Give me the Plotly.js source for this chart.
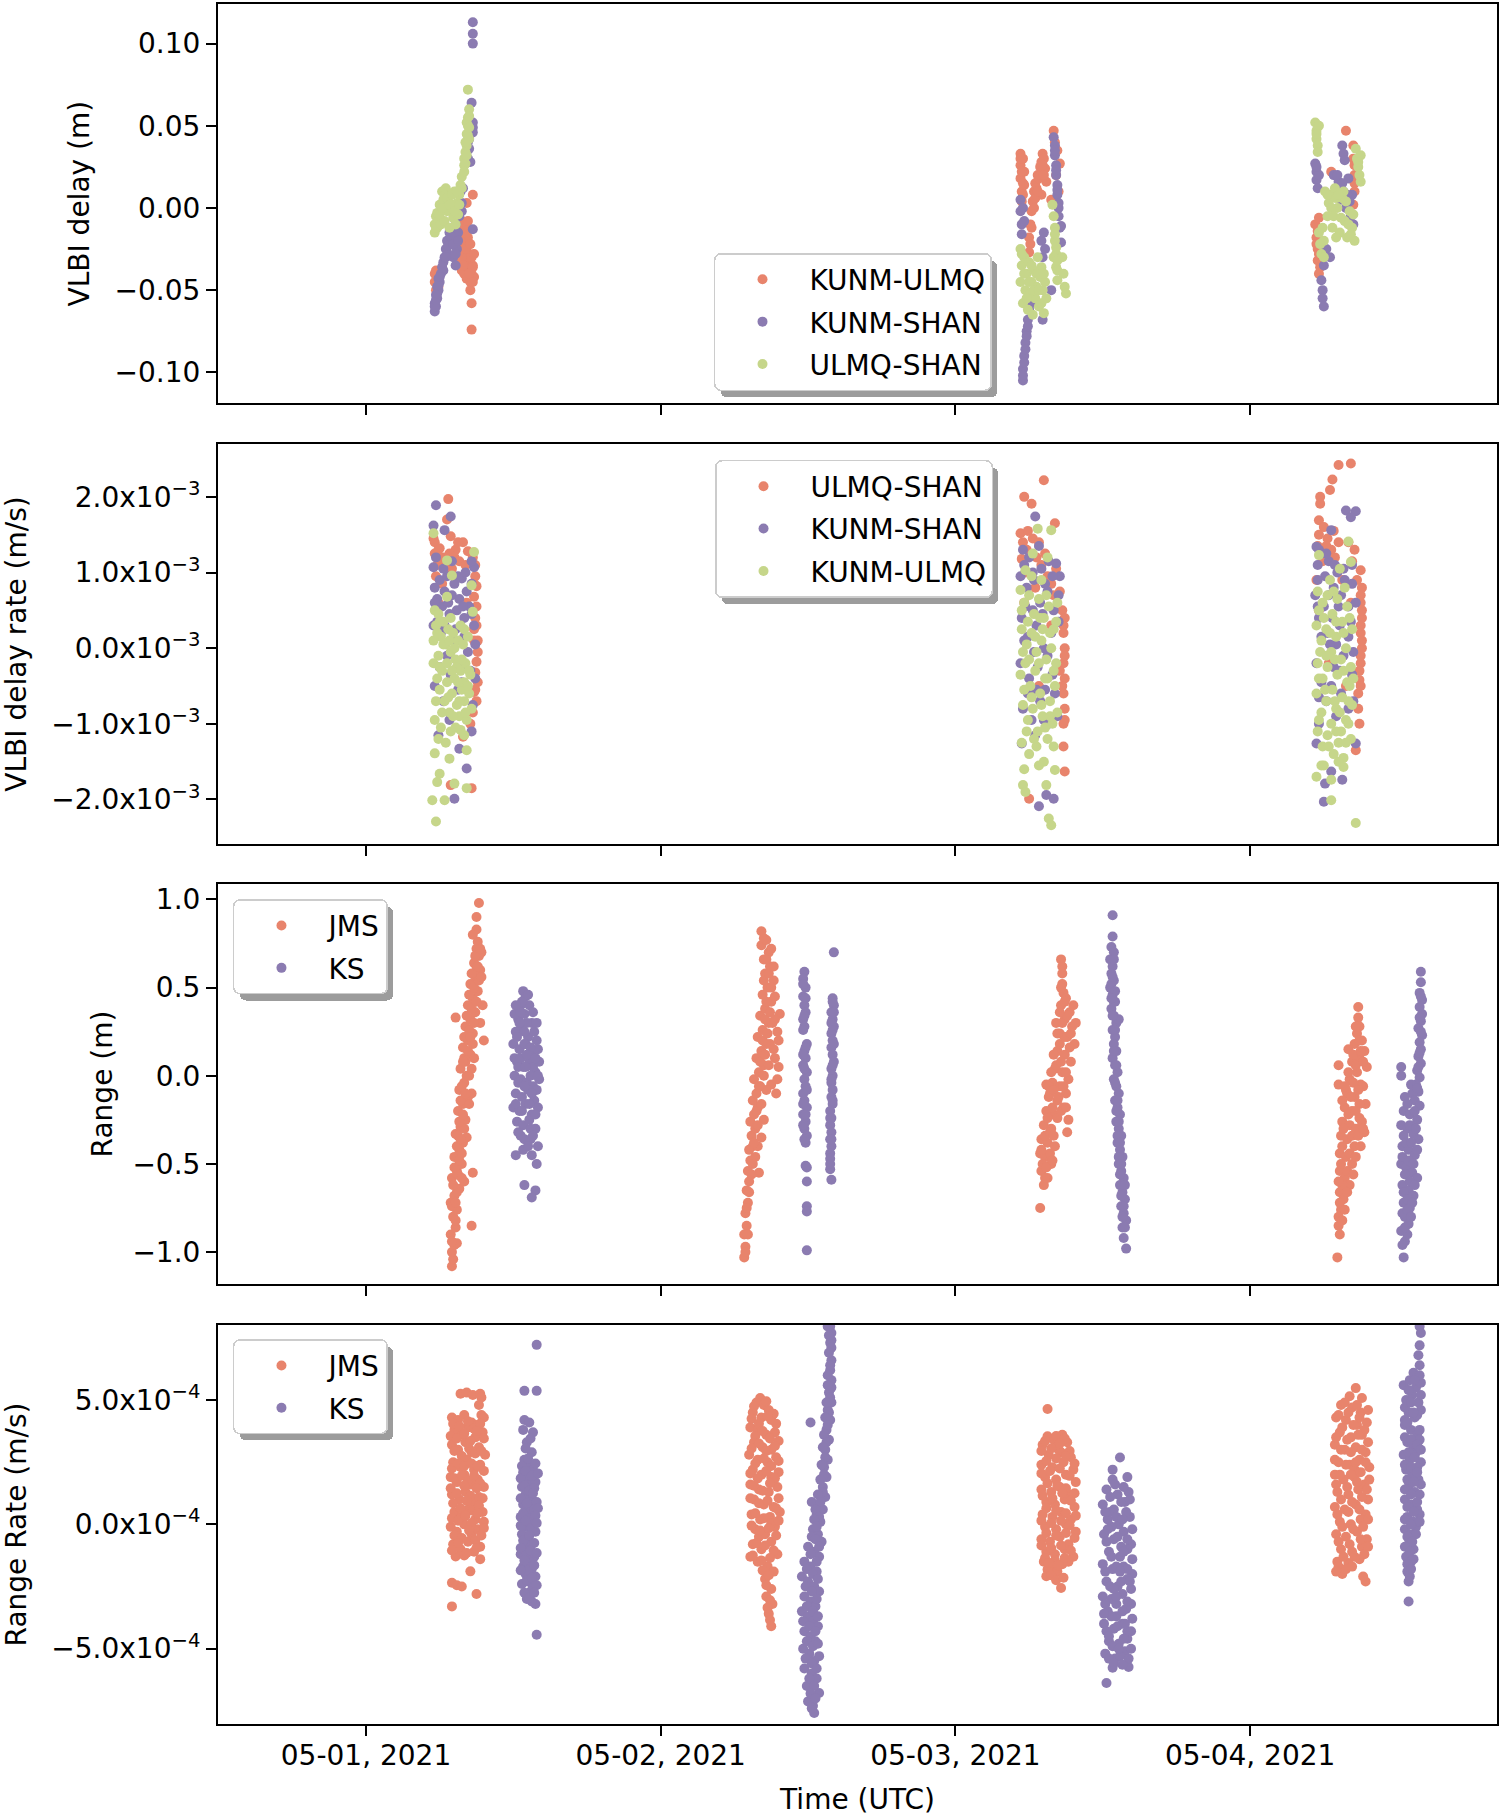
<!DOCTYPE html>
<html lang="en">
<head>
    <meta charset="UTF-8">
    <title>VLBI delay and range residuals</title>
    <script src="https://cdn.plot.ly/plotly-3.0.1.min.js"></script>
    <style>
        body { margin: 0; background: #ffffff; }
        #plot { width: 1500px; height: 1816px; }
    </style>
</head>
<body>
    <div id="plot"></div>

    <script>
        // every point is [hours since 2021-05-01 00:00 UTC, value]

        // VLBI delay (m)
        const delayKunmUlmq = [
            [5.6,-0.040],[5.6,-0.045],[5.7,-0.050],[5.8,-0.043],[5.9,-0.048],[5.7,-0.038],
            [7.5,-0.005],[7.6,-0.010],[7.6,-0.018],[7.7,-0.025],[7.7,-0.032],[7.8,-0.008],[7.8,-0.038],
            [7.9,-0.015],[7.9,-0.028],[8.0,-0.040],[8.0,-0.020],[8.1,-0.033],[8.1,-0.012],[8.2,-0.043],
            [8.2,-0.025],[8.3,-0.036],[8.3,-0.018],[8.4,-0.030],[8.5,-0.045],[8.6,-0.040],[8.7,-0.035],
            [8.8,-0.042],[8.5,-0.050],[8.6,-0.058],[8.6,-0.074],[8.7,0.008],[8.2,0.003],[8.7,-0.036],
            [7.6,-0.014],[7.7,-0.020],[7.8,-0.030],[7.9,-0.035],[8.0,-0.010],[8.1,-0.025],[8.2,-0.015],
            [8.3,-0.008],[8.4,-0.040],[8.5,-0.022],[8.6,-0.030],[8.7,-0.045],[8.8,-0.028],[7.5,-0.012],
            [53.3,0.033],[53.3,0.026],[53.3,0.018],[53.4,0.010],[53.4,0.004],[53.5,0.030],[53.6,0.022],[53.6,0.014],
            [53.3,0.030],[53.4,0.022],[53.5,0.015],[53.5,0.008],
            [54.0,-0.027],[54.0,-0.018],[54.1,-0.010],[54.2,-0.002],[54.3,0.004],[54.4,0.010],[54.5,0.015],
            [54.6,0.012],[54.7,0.020],[54.8,0.018],[54.9,0.025],[55.0,0.028],[55.1,0.033],[55.2,0.030],
            [55.3,0.024],[55.4,0.016],[55.0,0.008],[54.1,-0.022],[54.2,-0.012],[54.4,0.000],[54.5,0.006],
            [54.7,0.010],[54.9,0.020],[55.1,0.026],[55.2,0.020],
            [56.0,0.047],[56.1,0.040],[56.3,0.035],[56.5,0.027],[56.2,0.020],[56.4,0.010],[55.8,0.005],[56.3,0.003],
            [79.8,0.047],[78.6,0.022],[80.4,0.038],[80.4,0.030],[80.5,0.020],[80.5,0.010],[80.4,0.002],
            [80.5,0.026],[80.5,0.015],
            [77.3,-0.010],[77.4,-0.018],[77.5,-0.025],[77.5,-0.032],[77.6,-0.040],[77.7,-0.036],[77.6,-0.006],
            [77.4,-0.022],[77.5,-0.014],[77.6,-0.028]
        ];
        const delayKunmShan = [
            [5.6,-0.063],[5.6,-0.058],[5.7,-0.060],[5.7,-0.053],[5.8,-0.055],[5.8,-0.048],[5.9,-0.050],
            [5.9,-0.043],[6.0,-0.045],[6.1,-0.040],[6.2,-0.036],[6.3,-0.038],
            [5.6,-0.060],[5.7,-0.056],[5.8,-0.052],[5.9,-0.047],[6.0,-0.042],[6.3,-0.033],
            [6.4,-0.030],[6.5,-0.025],[6.6,-0.020],[6.7,-0.028],[6.8,-0.015],[6.9,-0.022],[7.0,-0.012],
            [7.1,-0.030],[7.2,-0.018],[7.3,-0.010],[7.4,-0.025],[7.5,-0.015],[7.3,-0.035],
            [6.5,-0.030],[6.7,-0.023],[6.9,-0.017],[7.1,-0.022],[7.3,-0.028],[7.5,-0.020],[7.6,-0.005],
            [7.7,0.010],[7.8,0.003],[7.8,-0.002],[7.9,0.012],[8.7,-0.013],
            [8.3,0.030],[8.4,0.036],[8.4,0.042],[8.5,0.028],[8.6,0.064],[8.7,0.049],[8.7,0.052],[8.7,0.046],
            [8.2,0.034],[8.3,0.040],[8.5,0.045],
            [8.7,0.100],[8.7,0.106],[8.7,0.113],
            [53.3,0.005],[53.3,-0.002],[53.4,-0.010],[53.4,-0.016],[53.5,0.000],[53.6,-0.008],
            [53.5,-0.105],[53.5,-0.098],[53.6,-0.090],[53.7,-0.082],[53.8,-0.075],[53.9,-0.068],[54.0,-0.062],[54.2,-0.058],
            [53.5,-0.102],[53.6,-0.094],[53.7,-0.086],[53.8,-0.078],[53.9,-0.072],
            [55.0,-0.020],[55.1,-0.030],[55.2,-0.015],[55.3,-0.025],[55.1,-0.068],[55.8,-0.050],
            [56.0,0.043],[56.1,0.038],[56.1,0.032],[56.2,0.026],[56.2,0.020],[56.3,0.014],[56.3,0.008],
            [56.4,0.003],[56.4,-0.005],[56.5,-0.012],[56.6,-0.011],[56.6,-0.021],
            [56.1,0.035],[56.2,0.023],[56.3,0.011],[56.4,0.000],
            [77.3,0.027],[77.4,0.022],[77.4,0.017],[77.5,0.012],[77.6,0.020],[77.4,0.025],
            [79.5,0.038],[79.6,0.033],[79.7,0.029],
            [78.8,0.020],[79.0,0.012],[79.2,0.016],[79.4,0.005],[79.6,0.010],[79.8,0.000],[80.0,0.018],
            [80.2,-0.005],[80.4,-0.010],[80.3,0.008],[79.1,0.020],[79.5,0.015],[79.9,0.008],[80.1,0.004],
            [77.8,-0.044],[77.9,-0.050],[77.9,-0.055],[78.0,-0.060],[78.0,-0.035],[78.2,-0.025],[78.5,-0.030]
        ];
        const delayUlmqShan = [
            [5.6,-0.010],[5.6,-0.015],[5.7,-0.005],[5.8,-0.012],[5.9,-0.008],[5.7,-0.012],[5.8,-0.003],
            [6.0,0.002],[6.1,-0.010],[6.2,0.010],[6.3,0.005],[6.4,-0.008],[6.5,0.012],[6.6,-0.002],
            [6.7,0.004],[6.8,-0.012],[6.9,0.008],[7.0,0.000],[7.1,-0.006],[7.2,0.010],[7.3,-0.010],
            [7.4,0.003],[7.5,-0.004],[7.6,0.008],[7.7,0.014],[7.8,0.019],[7.8,0.012],
            [6.0,-0.004],[6.2,0.000],[6.4,0.008],[6.6,0.006],[6.8,0.002],[7.0,0.008],[7.2,-0.002],
            [7.4,0.010],[7.6,0.002],
            [8.0,0.026],[8.0,0.030],[8.1,0.034],[8.2,0.038],[8.2,0.045],[8.3,0.050],[8.3,0.055],
            [8.4,0.060],[8.4,0.042],[8.1,0.027],[8.3,0.072],[8.0,0.022],[8.1,0.040],[8.2,0.032],
            [8.2,0.052],[8.3,0.044],[8.4,0.056],[8.4,0.049],
            [53.3,-0.025],[53.3,-0.045],[53.4,-0.035],[53.5,-0.058],[53.6,-0.030],[53.7,-0.050],
            [53.8,-0.040],[53.9,-0.062],[54.0,-0.033],[54.1,-0.052],[54.2,-0.045],[54.3,-0.065],
            [54.4,-0.038],[54.5,-0.055],[54.6,-0.048],[54.7,-0.030],[54.8,-0.060],[54.9,-0.042],
            [55.0,-0.036],[55.1,-0.050],[55.2,-0.064],[55.3,-0.045],[55.4,-0.055],
            [53.4,-0.028],[53.6,-0.040],[53.8,-0.055],[54.0,-0.045],[54.2,-0.035],[54.4,-0.050],
            [54.6,-0.040],[54.8,-0.050],[55.0,-0.058],[55.2,-0.040],
            [55.9,0.002],[56.0,-0.005],[56.1,-0.012],[56.1,-0.020],[56.2,-0.028],[56.2,-0.036],
            [56.3,-0.044],[56.0,-0.030],[56.1,-0.016],[56.2,-0.024],[56.3,-0.032],[56.3,-0.038],
            [56.7,-0.030],[56.8,-0.040],[56.9,-0.048],[57.0,-0.052],
            [77.3,0.052],[77.4,0.047],[77.4,0.042],[77.5,0.038],[77.5,0.034],[77.6,0.050],[77.4,0.045],
            [80.6,0.036],[80.7,0.030],[80.8,0.025],[80.9,0.020],[81.0,0.016],[81.0,0.032],[80.8,0.028],
            [78.1,0.010],[78.3,-0.005],[78.5,0.008],[78.7,-0.012],[78.9,0.012],[79.1,0.000],
            [79.3,-0.015],[79.5,0.006],[79.7,-0.008],[79.9,-0.018],[80.1,-0.002],[80.3,-0.012],
            [80.5,-0.020],[78.4,0.003],[79.0,-0.018],[79.6,0.010],[80.2,-0.016],
            [78.3,0.008],[78.6,0.000],[78.8,-0.005],[79.0,0.006],[79.2,0.008],[79.4,-0.006],
            [79.8,0.004],[80.0,-0.010],[80.4,-0.004],[78.0,-0.020],
            [77.6,-0.015],[77.7,-0.022],[77.8,-0.028],[77.9,-0.012],[78.0,-0.030]
        ];

        // VLBI delay rate, in units of 1e-3 m/s
        const rateUlmqShan = [
            [6.7,1.97],[6.6,1.70],[6.9,1.48],[7.9,1.40],[8.3,1.28],[8.7,1.20],[5.5,1.45],[5.6,1.25],
            [5.8,1.10],[6.0,1.32],[6.3,1.20],[6.5,1.05],[7.3,1.30],[7.6,1.15],[8.9,1.10],[8.9,0.95],
            [9.0,0.82],[8.8,0.68],[9.0,0.55],[8.9,0.40],[9.1,0.10],[8.8,0.25],[9.0,-0.18],[8.9,-0.32],
            [9.1,-0.45],[8.8,-0.58],[9.0,-0.70],[8.7,-0.85],[7.9,-1.17],[6.9,-1.81],[8.6,-1.85],
            [5.7,0.95],[6.2,0.85],[7.0,1.05],[8.2,0.60],[5.9,0.60],[8.5,-1.00],
            [5.6,1.40],[6.1,1.10],[6.8,1.25],[7.5,1.40],[8.1,1.10],[8.8,0.85],[9.0,0.30],[9.1,-0.05],
            [8.9,-0.55],[8.8,0.10],[5.9,1.30],[7.2,1.20],
            [55.2,2.22],[53.6,2.00],[54.2,1.91],[56.1,1.65],[53.3,1.52],[53.5,1.40],[53.8,1.30],
            [54.3,1.45],[54.6,1.20],[55.0,1.10],[53.4,1.18],[55.5,0.95],[56.0,0.70],[56.7,0.50],
            [56.9,0.40],[56.8,0.20],[56.9,0.00],[56.8,-0.20],[56.9,-0.40],[56.8,-0.60],[56.9,-0.80],
            [56.8,-1.00],[56.9,-1.63],[54.0,-1.99],[54.5,0.80],[53.6,0.60],[55.8,0.30],[56.5,-0.30],
            [54.8,-0.50],[56.2,1.05],
            [53.9,1.55],[54.8,1.40],[55.3,1.25],[55.8,0.85],[56.5,0.75],[56.8,0.30],[56.9,-0.10],
            [56.7,-0.50],[56.9,-0.95],[56.8,-1.30],[53.7,1.00],
            [79.2,2.42],[80.2,2.44],[78.7,2.23],[78.5,2.09],[77.7,2.00],[77.7,1.91],[77.6,1.69],
            [78.0,1.60],[78.3,1.45],[78.6,1.30],[77.5,1.35],[77.9,1.15],[78.9,1.20],[80.0,1.40],
            [80.5,1.30],[81.0,1.03],[81.1,0.80],[81.0,0.60],[81.1,0.40],[81.0,0.20],[81.1,0.00],
            [81.0,-0.20],[80.9,-0.42],[80.8,-0.60],[80.6,-1.35],[79.5,0.90],[80.2,0.60],[77.6,0.50],
            [78.4,-0.20],[79.8,-0.50],[80.9,-1.00],[77.4,0.90],
            [77.6,1.50],[78.2,1.35],[78.8,1.55],[80.3,1.15],[80.7,0.90],[81.0,0.70],[81.1,0.50],
            [81.0,0.30],[81.1,0.10],[81.0,-0.10],[80.9,-0.30],[81.0,-0.50],[80.8,-0.80],[79.2,1.40]
        ];
        const rateKunmShan = [
            [5.7,1.89],[6.9,1.74],[6.4,1.56],[5.5,1.62],[5.5,1.07],[8.8,1.07],[5.6,0.80],[5.8,0.65],
            [6.0,0.90],[6.2,0.55],[6.4,0.75],[6.6,0.95],[6.8,0.45],[7.0,0.70],[7.2,0.85],[7.4,0.50],
            [7.6,0.65],[7.8,0.92],[8.0,0.40],[8.2,0.75],[8.4,0.55],[8.6,0.85],[8.8,0.30],[5.5,0.30],
            [6.1,0.20],[6.6,-0.10],[7.1,0.10],[7.7,-0.25],[8.3,-0.05],[8.9,-0.40],[5.6,-0.50],
            [6.3,-0.70],[7.5,-0.55],[8.7,-0.75],[5.9,-1.15],[7.6,-1.33],[8.2,-1.59],[7.2,-1.99],
            [8.6,-1.10],[6.8,-0.95],[8.9,0.05],
            [5.7,1.20],[6.3,1.05],[7.0,1.15],[7.5,0.95],[8.1,1.00],[8.6,1.15],[5.8,0.35],[6.4,0.30],
            [7.3,0.25],[8.0,0.15],[8.6,0.45],[6.0,-0.25],[6.9,-0.35],[7.8,-0.45],[8.5,-0.30],
            [6.7,0.60],[7.9,0.55],[5.6,0.60],
            [54.5,1.74],[53.5,1.30],[54.0,1.20],[55.0,1.05],[55.6,1.15],[56.2,1.12],[53.3,0.95],
            [53.8,0.80],[54.4,0.90],[54.9,0.60],[55.5,0.75],[56.0,0.50],[56.4,0.35],[53.4,0.40],
            [53.9,0.15],[54.6,0.30],[55.2,0.00],[55.8,0.20],[53.3,-0.20],[54.0,-0.40],[54.7,-0.25],
            [55.3,-0.55],[55.9,-0.35],[53.5,-0.80],[54.2,-0.95],[54.9,-0.70],[55.6,-1.00],[53.4,-1.26],
            [54.5,-1.15],[55.4,-1.94],[54.8,-2.09],[56.0,-1.99],[56.3,-0.90],[56.5,0.95],
            [53.6,1.10],[54.3,1.00],[55.3,0.85],[55.9,0.95],[53.7,0.55],[54.3,0.50],[55.1,0.45],
            [53.6,0.10],[54.4,-0.05],[55.5,-0.10],[53.9,-0.60],[54.6,-0.55],[55.2,-0.95],[56.1,-0.60],
            [54.8,1.35],[56.4,0.70],
            [79.8,1.82],[80.6,1.81],[80.2,1.73],[78.6,1.56],[77.4,1.34],[77.5,1.10],[77.8,1.25],
            [78.1,0.95],[78.4,1.15],[78.8,0.80],[79.1,1.00],[79.4,0.70],[79.7,0.90],[80.0,0.55],
            [80.3,0.85],[80.6,0.60],[77.3,0.70],[77.6,0.40],[78.0,0.55],[78.3,0.20],[78.7,0.40],
            [79.0,0.05],[79.3,0.30],[79.6,-0.10],[80.0,0.15],[80.4,-0.05],[77.4,-0.20],[77.8,-0.45],
            [78.2,-0.70],[78.6,-0.50],[79.0,-0.90],[79.4,-0.60],[80.0,-0.80],[77.4,-1.26],[80.6,-1.26],
            [78.6,-1.63],[79.5,-1.74],[78.1,-1.79],[78.0,-2.03],[77.6,-1.00],
            [77.6,1.30],[78.2,1.25],[78.9,1.10],[79.6,1.05],[80.3,1.10],[77.5,0.90],[78.4,0.70],
            [79.2,0.55],[80.2,0.35],[77.8,0.15],[78.5,0.05],[79.3,-0.30],[80.3,-0.35],[77.6,-0.65],
            [78.8,-0.25],[80.4,-0.70],[77.5,0.55]
        ];
        const rateKunmUlmq = [
            [5.5,1.52],[8.8,1.27],[6.6,1.16],[7.0,0.96],[8.6,0.83],[6.6,0.68],[5.6,0.50],[8.7,0.48],
            [5.7,0.30],[5.9,0.45],[6.1,0.15],[6.3,0.35],[6.5,0.05],[6.7,0.25],[6.9,-0.05],[7.1,0.20],
            [7.3,-0.15],[7.5,0.10],[7.7,-0.30],[7.9,0.05],[8.1,-0.20],[8.3,0.15],[8.5,-0.35],[5.5,-0.20],
            [5.8,-0.40],[6.0,-0.55],[6.2,-0.30],[6.4,-0.70],[6.6,-0.45],[6.8,-0.85],[7.0,-0.60],
            [7.2,-0.40],[7.4,-0.75],[7.6,-0.90],[7.8,-0.55],[8.0,-0.70],[8.2,-0.95],[8.4,-0.60],
            [8.6,-0.80],[5.6,-0.95],[6.1,-1.05],[6.9,-1.10],[7.7,-1.08],[5.6,-1.39],[6.8,-1.46],
            [8.2,-1.35],[6.0,-1.66],[5.8,-1.77],[7.2,-1.79],[8.2,-1.85],[5.4,-2.01],[6.4,-2.01],
            [5.7,-2.29],[5.9,-0.10],[7.4,-0.25],[8.0,-0.45],[6.5,-1.25],
            [5.5,0.10],[5.8,0.20],[6.0,-0.25],[6.3,0.05],[6.6,-0.20],[6.8,0.10],[7.0,-0.30],[7.2,0.00],
            [7.5,-0.45],[7.8,-0.15],[8.0,0.25],[8.3,-0.50],[5.7,-0.70],[6.2,-0.85],[6.7,-0.65],
            [7.1,-0.90],[7.6,-0.70],[8.1,-0.85],[8.4,-0.30],[6.0,0.35],[6.9,0.40],[7.7,0.30],
            [5.9,-1.20],[7.3,-1.05],[8.0,-1.15],
            [54.7,1.58],[55.8,1.56],[53.7,1.03],[54.3,1.25],[55.0,0.90],[53.3,0.77],[53.6,0.60],
            [54.0,0.70],[54.4,0.45],[54.8,0.65],[55.2,0.40],[55.6,0.55],[56.0,0.25],[56.3,0.60],
            [53.4,0.25],[53.8,0.05],[54.2,0.20],[54.6,-0.05],[55.0,0.10],[55.4,-0.15],[55.8,0.00],
            [56.2,-0.20],[53.3,-0.35],[53.7,-0.20],[54.1,-0.50],[54.5,-0.30],[54.9,-0.60],[55.3,-0.40],
            [55.7,-0.70],[56.1,-0.50],[53.5,-0.75],[53.9,-0.95],[54.3,-0.80],[54.7,-1.10],[55.1,-0.90],
            [55.5,-1.20],[55.9,-1.00],[56.3,-0.85],[53.4,-1.25],[54.0,-1.40],[54.6,-1.30],[55.2,-1.50],
            [56.1,-1.61],[53.5,-1.81],[53.7,-1.90],[55.4,-1.81],[55.6,-2.25],[55.8,-2.34],[54.2,0.95],
            [55.5,1.20],
            [53.4,0.50],[53.9,0.35],[54.5,0.15],[55.1,0.25],[55.7,0.20],[56.2,0.35],[53.5,-0.05],
            [54.0,-0.15],[54.8,-0.20],[55.5,-0.40],[56.0,-0.30],[53.6,-0.55],[54.2,-0.65],[55.0,-0.75],
            [55.7,-0.90],[53.8,-1.10],[54.4,-1.20],[55.3,-1.05],[56.0,-1.30],[54.8,-1.55],[53.6,-1.60],
            [54.9,0.40],[55.4,0.70],
            [80.0,1.41],[80.2,1.14],[77.6,1.23],[78.5,0.90],[79.3,1.05],[77.5,0.75],[77.9,0.60],
            [78.3,0.70],[78.7,0.45],[79.1,0.65],[79.5,0.35],[79.9,0.55],[80.3,0.25],[77.4,0.30],
            [77.8,0.10],[78.2,0.25],[78.6,-0.05],[79.0,0.15],[79.4,-0.15],[79.8,0.00],[80.2,-0.25],
            [77.5,-0.20],[77.9,-0.40],[78.3,-0.25],[78.7,-0.55],[79.1,-0.35],[79.5,-0.65],[79.9,-0.45],
            [80.3,-0.75],[77.4,-0.60],[77.8,-0.85],[78.2,-0.70],[78.6,-1.00],[79.0,-0.80],[79.4,-1.10],
            [79.8,-0.95],[80.2,-1.20],[77.5,-1.10],[77.9,-1.30],[78.3,-1.15],[78.8,-1.40],[79.2,-1.25],
            [79.6,-1.45],[77.4,-1.70],[78.6,-1.74],[79.6,-1.57],[78.6,-2.01],[80.6,-2.31],[78.0,-1.55],
            [80.0,-1.00],
            [77.6,0.50],[78.0,0.40],[78.5,0.20],[79.0,0.35],[79.6,0.20],[80.1,0.40],[77.7,-0.05],
            [78.2,-0.10],[78.9,-0.15],[79.6,-0.30],[80.1,-0.50],[77.6,-0.40],[78.1,-0.55],[78.9,-0.70],
            [79.3,-0.85],[80.0,-0.70],[77.6,-0.95],[78.4,-1.30],[79.0,-1.10],[79.8,-1.25],[77.8,-1.55],
            [79.2,-1.50],[78.8,0.75],[79.7,0.80],[80.4,-0.40]
        ];

        // Range (m)
        const rangeJms = [
            [7.0,-1.08],[7.1,-1.04],[7.0,-1.00],[7.2,-0.96],[6.9,-0.90],[7.3,-0.86],[7.1,-0.80],[7.4,-0.76],
            [6.9,-0.72],[7.2,-0.68],[7.6,-0.64],[7.0,-0.58],[7.4,-0.54],[7.8,-0.50],[7.2,-0.46],[7.6,-0.42],
            [7.9,-0.38],[7.3,-0.33],[7.7,-0.29],[8.1,-0.25],[7.5,-0.20],[7.9,-0.16],[8.3,-0.12],[7.6,-0.08],
            [8.0,-0.04],[8.4,0.00],[7.7,0.04],[8.1,0.08],[8.5,0.12],[7.9,0.16],[8.3,0.20],[8.7,0.24],
            [8.1,0.28],[8.5,0.32],[8.9,0.36],[8.3,0.40],[8.7,0.44],[9.1,0.48],[8.5,0.52],[8.9,0.56],
            [9.3,0.60],[8.8,0.64],[9.2,0.68],[9.0,0.72],[9.4,0.70],[9.1,0.76],[9.0,0.83],[9.2,0.98],
            [7.3,0.33],[8.6,-0.85],[8.7,-0.55],[8.0,-0.60],[8.2,-0.35],[8.6,-0.10],[8.8,0.10],[9.5,0.40],
            [9.6,0.20],[9.3,0.30],[7.4,-0.95],
            [7.0,-0.94],[7.3,-0.82],[7.0,-0.74],[7.4,-0.66],[7.1,-0.62],[7.5,-0.56],[7.8,-0.58],[7.2,-0.52],
            [7.6,-0.48],[7.4,-0.40],[7.8,-0.44],[7.5,-0.34],[8.0,-0.30],[7.6,-0.26],[7.9,-0.22],[7.7,-0.14],
            [8.1,-0.10],[8.4,-0.16],[7.8,-0.06],[8.2,0.00],[8.6,0.04],[8.0,0.10],[8.3,0.14],[8.7,0.18],
            [8.0,0.22],[8.4,0.26],[8.8,0.30],[8.2,0.34],[8.6,0.38],[9.0,0.42],[8.4,0.46],[8.8,0.50],
            [9.2,0.54],[8.6,0.58],[9.0,0.62],[9.4,0.56],[8.9,0.68],[9.3,0.72],[9.1,0.62],[8.7,0.80],
            [9.0,0.90],[7.9,0.08],[8.5,0.22],[7.3,-0.72],[7.7,-0.36],
            [30.8,-1.03],[30.9,-0.97],[30.8,-0.90],[31.0,-0.85],[30.9,-0.78],[31.1,-0.72],[31.0,-0.65],
            [31.2,-0.60],[31.1,-0.54],[31.3,-0.48],[31.2,-0.42],[31.5,-0.40],[31.4,-0.34],[31.7,-0.30],
            [31.3,-0.26],[31.6,-0.22],[31.9,-0.18],[31.5,-0.14],[31.8,-0.10],[32.1,-0.06],[31.6,-0.02],
            [32.0,0.02],[32.4,0.06],[31.8,0.10],[32.2,0.14],[32.6,0.18],[31.9,0.22],[32.3,0.26],
            [32.8,0.30],[32.1,0.34],[32.5,0.38],[33.0,0.42],[32.3,0.46],[32.7,0.50],[33.2,0.54],
            [32.5,0.58],[32.9,0.62],[33.3,0.45],[32.4,0.66],[32.8,0.70],[32.2,0.74],[32.6,0.77],
            [32.2,0.82],[33.5,0.25],[33.6,0.05],[33.4,-0.10],[33.7,0.35],[31.9,-0.40],[32.4,-0.25],
            [33.0,-0.05],[33.2,0.15],[32.0,-0.55],
            [31.7,-0.46],[31.5,-0.50],[31.9,-0.28],[32.2,-0.35],[31.8,-0.20],[32.2,-0.16],[32.6,-0.08],
            [32.0,-0.06],[32.4,0.00],[32.8,0.06],[32.1,0.08],[32.5,0.12],[32.9,0.18],[33.3,0.10],
            [32.3,0.20],[32.7,0.24],[33.1,0.30],[32.5,0.32],[32.9,0.36],[33.3,0.32],[32.6,0.42],
            [33.0,0.50],[32.4,0.54],[32.8,0.58],[33.2,0.62],[32.6,0.66],[33.0,0.72],[32.4,0.78],
            [31.6,-0.38],[33.6,0.20],[33.5,-0.02],[31.1,-0.90],[31.0,-0.75],[31.2,-0.66],[31.4,-0.56],
            [30.9,-1.00],
            [56.6,0.66],[56.7,0.62],[56.7,0.58],[56.8,0.47],[57.0,0.44],[56.6,0.40],[57.3,0.36],
            [56.9,0.32],[57.5,0.28],[56.5,0.24],[57.1,0.22],[57.7,0.18],[56.3,0.14],[56.9,0.12],
            [57.4,0.08],[56.1,0.04],[56.7,0.02],[57.2,-0.02],[55.9,-0.04],[56.5,-0.06],[57.0,-0.10],
            [55.6,-0.12],[56.3,-0.14],[56.8,-0.18],[55.4,-0.20],[56.0,-0.22],[57.2,-0.25],[55.2,-0.28],
            [55.8,-0.30],[57.1,-0.32],[55.0,-0.36],[55.5,-0.38],[56.1,-0.40],[54.9,-0.44],[55.3,-0.46],
            [55.8,-0.50],[55.0,-0.54],[55.5,-0.58],[55.2,-0.62],[54.9,-0.75],[55.7,-0.10],[56.2,0.30],
            [55.4,-0.05],[57.6,0.40],[57.8,0.30],
            [55.1,-0.50],[55.4,-0.52],[55.7,-0.44],[55.0,-0.42],[55.3,-0.34],[55.7,-0.32],[56.0,-0.34],
            [55.5,-0.24],[55.9,-0.18],[56.3,-0.24],[55.6,-0.06],[56.0,-0.08],[56.4,-0.12],[56.8,-0.06],
            [55.8,0.02],[56.2,0.06],[56.6,0.08],[57.0,0.02],[56.0,0.12],[56.5,0.18],[56.9,0.22],
            [57.3,0.16],[56.3,0.24],[56.7,0.30],[57.1,0.34],[56.5,0.36],[56.9,0.42],[57.4,0.24],
            [56.7,0.52],[56.6,0.50],[55.9,-0.48],[56.6,-0.20],[57.0,-0.18],[55.3,-0.58],
            [80.8,0.39],[80.8,0.33],[80.9,0.28],[80.7,0.24],[81.1,0.20],[80.5,0.18],[81.3,0.14],
            [80.9,0.10],[80.3,0.08],[81.5,0.05],[79.2,0.06],[80.7,0.02],[80.1,-0.02],[79.2,-0.05],
            [81.2,-0.06],[79.9,-0.10],[80.5,-0.12],[81.4,-0.16],[79.7,-0.18],[80.3,-0.20],[80.9,-0.24],
            [79.5,-0.26],[80.1,-0.28],[81.3,-0.32],[79.4,-0.34],[79.9,-0.36],[80.5,-0.40],[79.3,-0.44],
            [79.8,-0.46],[80.3,-0.50],[79.3,-0.54],[79.7,-0.58],[80.1,-0.62],[79.3,-0.66],[79.6,-0.70],
            [79.4,-0.76],[79.2,-0.80],[79.2,-0.85],[79.3,-0.90],[79.1,-1.03],[80.0,0.15],[81.0,-0.05],
            [79.8,-0.08],[80.6,-0.30],
            [80.6,0.28],[80.9,0.20],[80.4,0.12],[81.0,0.14],[80.6,0.06],[81.2,0.08],[80.0,0.02],
            [80.4,-0.04],[80.8,-0.08],[79.7,-0.06],[80.2,-0.12],[80.9,-0.16],[79.5,-0.14],[80.0,-0.22],
            [80.6,-0.20],[81.1,-0.26],[79.6,-0.30],[80.3,-0.34],[80.8,-0.34],[79.5,-0.40],[80.1,-0.44],
            [80.6,-0.46],[79.4,-0.50],[79.9,-0.54],[80.4,-0.56],[79.5,-0.62],[79.9,-0.66],[79.3,-0.72],
            [79.7,-0.76],[79.5,-0.82],[81.2,-0.30],[81.0,-0.40],[79.2,-0.60]
        ];
        const rangeKs = [
            [12.8,0.48],[13.0,0.45],[12.6,0.40],[13.3,0.40],[12.4,0.32],[12.9,0.35],[13.5,0.30],
            [12.2,0.25],[12.7,0.28],[13.2,0.22],[13.7,0.25],[12.0,0.18],[12.5,0.15],[13.0,0.18],
            [13.5,0.12],[14.0,0.15],[12.3,0.08],[12.8,0.05],[13.3,0.08],[13.8,0.02],[12.1,0.00],
            [12.6,-0.02],[13.1,-0.04],[13.6,-0.06],[14.1,-0.02],[12.2,-0.10],[12.7,-0.12],[13.2,-0.08],
            [13.7,-0.14],[12.0,-0.18],[12.5,-0.20],[13.0,-0.16],[13.5,-0.22],[14.0,-0.18],[12.3,-0.26],
            [12.8,-0.28],[13.3,-0.25],[13.8,-0.30],[12.6,-0.34],[13.4,-0.36],[12.2,-0.45],[13.5,-0.45],
            [13.9,-0.50],[14.0,-0.40],[12.9,-0.62],[13.8,-0.65],[13.5,-0.69],[12.4,0.05],[13.4,-0.30],
            [12.9,0.25],[13.9,0.30],[12.1,0.35],
            [12.6,0.36],[13.1,0.30],[13.6,0.36],[12.3,0.22],[12.9,0.18],[13.4,0.16],[13.9,0.20],
            [12.1,0.10],[12.6,0.10],[13.1,0.12],[13.6,0.05],[14.1,0.08],[12.4,-0.04],[12.9,-0.06],
            [13.4,0.00],[13.9,-0.08],[12.2,-0.16],[12.7,-0.20],[13.3,-0.16],[13.8,-0.22],[12.4,-0.32],
            [12.9,-0.36],[13.6,-0.34],[12.7,0.42],[13.2,0.46],[12.8,-0.42],[13.2,-0.40],[12.5,0.30],
            [13.0,0.05],[13.5,-0.10],[14.0,0.00],[12.2,0.40],[13.8,0.10],
            [35.7,0.59],[35.6,0.55],[35.8,0.50],[35.6,0.45],[35.7,0.40],[35.8,0.36],[35.6,0.32],
            [35.7,0.28],[35.9,0.18],[35.7,0.14],[35.8,0.10],[35.6,0.06],[35.9,0.02],[35.7,-0.02],
            [35.8,-0.06],[35.6,-0.10],[35.7,-0.14],[35.9,-0.18],[35.6,-0.22],[35.8,-0.26],[35.7,-0.30],
            [35.9,-0.34],[35.8,-0.38],[35.8,-0.51],[35.9,-0.52],[35.9,-0.60],[35.9,-0.74],[35.9,-0.77],
            [35.9,-0.99],
            [35.6,0.52],[35.8,0.44],[35.7,0.34],[35.6,0.26],[35.8,0.16],[35.6,0.12],[35.7,0.04],
            [35.9,-0.08],[35.6,-0.16],[35.8,-0.22],[35.6,-0.28],[35.7,-0.36],
            [38.1,0.70],[38.0,0.44],[38.1,0.40],[37.9,0.36],[38.0,0.32],[38.1,0.28],[37.9,0.24],
            [38.0,0.20],[37.9,0.16],[38.0,0.12],[38.1,0.08],[37.9,0.04],[38.0,0.00],[37.9,-0.04],
            [38.0,-0.08],[37.9,-0.12],[38.0,-0.16],[37.8,-0.20],[37.9,-0.24],[37.8,-0.28],[37.9,-0.32],
            [37.8,-0.36],[37.9,-0.40],[37.8,-0.44],[37.8,-0.47],[37.8,-0.53],[37.9,-0.59],
            [38.0,0.42],[37.9,0.30],[38.1,0.18],[38.0,0.06],[37.9,-0.02],[38.0,-0.14],[37.8,-0.24],
            [37.9,-0.36],[37.8,-0.50],[38.0,0.26],[38.1,0.36],
            [60.8,0.91],[60.8,0.79],[60.7,0.73],[60.9,0.70],[60.6,0.66],[60.8,0.62],[60.7,0.58],
            [60.9,0.54],[60.6,0.50],[60.8,0.46],[61.0,0.42],[60.7,0.38],[60.9,0.34],[61.1,0.30],
            [60.8,0.26],[61.0,0.22],[60.9,0.18],[61.1,0.14],[60.8,0.10],[61.0,0.06],[61.2,0.02],
            [60.9,-0.02],[61.1,-0.06],[61.3,-0.10],[61.0,-0.14],[61.2,-0.18],[61.4,-0.22],[61.1,-0.26],
            [61.3,-0.30],[61.5,-0.34],[61.2,-0.38],[61.4,-0.42],[61.6,-0.46],[61.3,-0.50],[61.5,-0.54],
            [61.7,-0.58],[61.4,-0.62],[61.6,-0.66],[61.8,-0.70],[61.5,-0.74],[61.7,-0.78],[61.9,-0.82],
            [61.6,-0.86],[61.9,-0.98],[61.3,0.32],
            [60.9,0.66],[60.7,0.52],[60.9,0.42],[60.8,0.34],[61.0,0.26],[60.9,0.14],[61.1,0.06],
            [61.0,-0.04],[61.2,-0.14],[61.1,-0.20],[61.3,-0.26],[61.2,-0.34],[61.4,-0.38],[61.3,-0.46],
            [61.5,-0.50],[61.4,-0.56],[61.6,-0.62],[61.5,-0.68],[61.7,-0.74],[61.6,-0.80],[61.8,-0.86],
            [61.7,-0.92],[61.8,-0.62],[60.8,0.56],[61.0,0.48],[60.7,0.44],
            [85.9,0.59],[85.9,0.53],[85.8,0.47],[86.0,0.43],[85.8,0.39],[86.0,0.35],[85.9,0.31],
            [85.7,0.27],[86.0,0.23],[85.8,0.19],[85.9,0.15],[85.7,0.11],[85.9,0.07],[85.6,0.03],
            [85.8,-0.01],[85.5,-0.05],[85.7,-0.09],[85.2,-0.10],[84.6,-0.12],[85.4,-0.14],[85.8,-0.17],
            [84.5,-0.20],[85.0,-0.22],[85.6,-0.25],[84.3,-0.28],[84.8,-0.30],[85.3,-0.33],[85.7,-0.36],
            [84.4,-0.40],[84.9,-0.42],[85.4,-0.45],[84.3,-0.50],[84.7,-0.52],[85.2,-0.55],[85.6,-0.58],
            [84.4,-0.62],[84.9,-0.65],[85.3,-0.68],[84.5,-0.72],[85.0,-0.75],[84.6,-0.80],[84.9,-0.84],
            [84.3,0.05],[84.3,0.00],[84.3,-0.88],[84.6,-0.94],[84.8,-0.90],[84.5,-1.03],[85.1,-0.05],
            [85.9,0.45],[85.8,0.33],[85.9,0.25],[85.8,0.13],[85.7,0.05],[85.6,-0.07],[85.4,-0.20],
            [84.8,-0.16],[85.0,-0.28],[85.5,-0.30],[84.5,-0.34],[84.7,-0.38],[85.1,-0.38],[85.6,-0.42],
            [84.4,-0.46],[84.9,-0.48],[85.3,-0.50],[84.6,-0.56],[85.0,-0.60],[85.4,-0.62],[84.5,-0.66],
            [84.8,-0.70],[85.2,-0.72],[84.4,-0.78],[84.8,-0.76],[85.1,-0.80],[84.6,-0.86],[84.4,-0.96]
        ];

        // Range rate, in units of 1e-4 m/s
        const rangeRateJms = [
            [7.7,5.25],[8.2,5.30],[8.7,5.20],[9.3,5.25],[9.4,5.10],[9.2,4.80],[9.4,4.40],[7.0,4.30],
            [7.5,4.20],[8.0,4.40],[8.6,4.10],[9.1,4.00],[9.6,4.30],[7.2,3.80],[7.8,3.60],[8.3,3.90],
            [8.9,3.50],[9.5,3.70],[7.0,3.20],[7.5,3.00],[8.1,3.30],[8.6,2.90],[9.2,3.10],[9.7,2.80],
            [7.1,2.50],[7.7,2.30],[8.2,2.60],[8.8,2.20],[9.3,2.40],[6.9,1.90],[7.4,1.70],[8.0,2.00],
            [8.5,1.60],[9.1,1.80],[9.6,1.50],[7.0,1.20],[7.6,1.00],[8.1,1.30],[8.7,0.90],[9.2,1.10],
            [7.2,0.50],[7.8,0.30],[8.3,0.60],[8.9,0.20],[9.5,0.50],[6.9,-0.10],[7.4,-0.30],[8.0,0.00],
            [8.6,-0.40],[9.1,-0.20],[9.6,0.10],[7.1,-0.80],[7.7,-1.00],[8.3,-0.70],[8.8,-1.10],
            [9.3,-0.90],[7.3,-1.29],[8.5,-1.89],[7.0,-2.35],[7.4,-2.45],[7.8,-2.50],[9.0,-2.80],
            [7.0,-3.30],[9.3,-1.40],[8.0,-1.25],
            [7.1,4.05],[7.6,3.95],[8.3,4.15],[8.8,3.85],[9.3,4.05],[6.9,3.55],[7.4,3.45],[8.0,3.65],
            [8.5,3.35],[9.0,3.75],[9.6,3.45],[7.2,2.95],[7.8,2.75],[8.4,3.05],[8.9,2.85],[9.4,2.95],
            [7.0,2.25],[7.5,2.45],[8.0,2.35],[8.6,2.45],[9.1,2.35],[9.6,2.15],[7.2,1.85],[7.8,1.95],
            [8.3,1.75],[8.8,1.95],[9.3,1.65],[6.9,1.45],[7.4,1.25],[8.0,1.55],[8.5,1.15],[9.0,1.45],
            [9.5,1.05],[7.1,0.85],[7.7,0.65],[8.2,0.95],[8.7,0.55],[9.2,0.75],[7.0,0.25],[7.5,0.15],
            [8.1,0.35],[8.6,0.05],[9.1,0.45],[9.6,-0.15],[7.2,-0.45],[7.8,-0.55],[8.4,-0.25],
            [8.9,-0.65],[9.4,-0.45],[7.0,-1.05],[7.5,-0.75],[8.2,-1.15],[9.0,-0.95],
            [32.1,5.08],[31.8,4.90],[32.4,4.80],[32.8,4.60],[31.5,4.50],[32.2,4.30],[33.0,4.20],
            [31.3,3.90],[31.9,3.80],[32.6,3.60],[33.3,3.70],[31.6,3.30],[32.3,3.10],[33.0,3.00],
            [31.2,2.80],[31.9,2.60],[32.7,2.50],[33.4,2.70],[31.5,2.20],[32.2,2.00],[33.0,1.90],
            [33.6,2.10],[31.3,1.60],[32.0,1.40],[32.8,1.30],[33.5,1.50],[31.6,1.00],[32.4,0.80],
            [33.2,0.70],[31.4,0.40],[32.1,0.20],[32.9,0.30],[33.7,0.50],[31.7,-0.20],[32.5,-0.40],
            [33.3,-0.10],[31.5,-0.80],[32.2,-1.00],[33.0,-0.70],[33.5,-1.20],[31.9,-1.50],[32.7,-1.69],
            [33.2,-1.90],[32.5,-2.20],[33.0,-2.60],[32.6,-2.90],[33.1,-3.20],[32.8,-3.60],[33.0,-4.10],
            [31.3,-1.30],[32.0,-0.50],
            [31.6,4.75],[32.6,4.95],[33.2,4.45],[31.4,4.25],[32.0,4.05],[32.7,4.35],[33.4,4.05],
            [31.7,3.55],[32.3,3.75],[32.9,3.45],[33.6,3.35],[31.4,3.05],[32.0,3.25],[32.6,2.95],
            [33.3,3.15],[31.7,2.45],[32.4,2.65],[33.0,2.35],[33.6,2.55],[31.3,2.05],[31.9,1.85],
            [32.6,2.15],[33.3,1.85],[31.6,1.55],[32.3,1.35],[32.9,1.65],[33.6,1.05],[31.3,1.05],
            [32.0,0.85],[32.7,0.95],[33.4,0.65],[31.7,0.45],[32.4,0.25],[33.0,0.05],[33.6,0.15],
            [31.4,-0.05],[32.1,-0.25],[32.8,-0.15],[33.4,-0.45],[31.8,-0.75],[32.5,-0.85],[33.2,-1.05],
            [31.5,-1.25],[32.2,-1.45],[32.9,-1.35],[32.3,-1.85],[32.8,-2.05],[32.6,-2.45],[32.9,-3.05],
            [32.7,-3.35],[32.9,-3.85],
            [55.5,4.64],[56.7,3.60],[55.5,3.54],[56.0,3.40],[55.1,3.20],[56.3,3.10],[57.1,3.30],
            [55.6,2.80],[56.6,2.90],[57.4,2.70],[55.0,2.40],[55.9,2.30],[56.8,2.50],[57.6,2.20],
            [55.3,1.90],[56.2,1.80],[57.0,2.00],[57.8,1.70],[55.0,1.40],[55.8,1.30],[56.5,1.50],
            [57.3,1.20],[55.4,0.90],[56.1,0.80],[56.9,1.00],[57.7,0.70],[55.1,0.40],[55.9,0.30],
            [56.6,0.50],[57.4,0.20],[55.3,-0.10],[56.2,-0.20],[57.0,0.00],[57.8,-0.30],[55.0,-0.60],
            [55.7,-0.70],[56.5,-0.50],[57.2,-0.80],[55.4,-1.10],[56.1,-1.20],[56.9,-1.00],[57.6,-1.30],
            [55.2,-1.50],[56.0,-1.70],[56.7,-1.60],[55.5,-1.82],[56.3,-1.90],[55.4,-2.09],[56.6,-2.56],
            [57.2,-1.50],[56.4,3.00],
            [55.3,3.35],[56.2,3.55],[56.9,3.45],[55.0,2.95],[55.8,3.05],[56.5,3.25],[57.3,2.95],
            [55.4,2.55],[56.2,2.65],[57.0,2.75],[57.7,2.45],[55.0,2.05],[55.7,2.15],[56.5,2.25],
            [57.3,1.95],[55.5,1.65],[56.3,1.55],[57.0,1.45],[57.7,1.25],[55.1,1.15],[55.9,1.05],
            [56.7,1.25],[57.4,0.95],[55.4,0.65],[56.2,0.55],[57.0,0.45],[57.8,0.35],[55.0,0.15],
            [55.8,0.05],[56.6,0.15],[57.3,-0.05],[55.4,-0.35],[56.2,-0.45],[57.0,-0.35],[57.7,-0.55],
            [55.0,-0.85],[55.8,-0.95],[56.6,-0.85],[57.4,-1.05],[55.3,-1.35],[56.1,-1.45],[56.9,-1.35],
            [55.6,-1.55],[56.4,-1.65],[55.8,-2.05],[56.2,-2.25],[56.8,-2.15],
            [80.6,5.48],[80.1,5.15],[81.1,5.08],[79.4,4.80],[80.3,4.70],[81.0,4.50],[79.0,4.30],
            [79.8,4.20],[80.7,4.00],[81.5,4.10],[79.3,3.70],[80.2,3.50],[81.1,3.60],[78.9,3.20],
            [79.7,3.00],[80.6,3.10],[81.4,2.90],[79.2,2.50],[80.1,2.40],[80.9,2.60],[81.7,2.30],
            [78.9,2.00],[79.6,1.80],[80.5,1.90],[81.3,1.60],[79.1,1.30],[80.0,1.20],[80.8,1.40],
            [81.6,1.00],[78.9,0.70],[79.7,0.60],[80.6,0.80],[81.4,0.40],[79.3,0.10],[80.2,0.00],
            [81.0,0.20],[79.0,-0.40],[79.8,-0.50],[80.7,-0.30],[81.5,-0.60],[79.4,-1.00],[80.3,-1.10],
            [81.1,-0.90],[79.1,-1.50],[80.0,-1.55],[80.9,-1.40],[79.2,-1.70],[79.5,-2.00],[79.0,-1.90],
            [81.4,-2.30],[81.2,-2.10],[80.5,2.20],
            [79.7,4.90],[80.7,4.80],[79.2,4.40],[80.0,4.50],[80.9,4.30],[81.6,4.60],[79.5,3.90],
            [80.4,4.00],[81.3,3.80],[79.0,3.50],[79.9,3.40],[80.8,3.60],[81.6,3.30],[79.4,3.00],
            [80.2,2.90],[81.1,3.00],[78.9,2.60],[79.8,2.40],[80.6,2.50],[81.4,2.50],[79.3,2.00],
            [80.2,2.00],[81.0,2.10],[81.7,1.80],[79.0,1.60],[79.9,1.50],[80.7,1.70],[81.5,1.40],
            [79.4,1.00],[80.3,0.90],[81.1,1.10],[79.1,0.40],[80.0,0.50],[80.9,0.60],[81.6,0.20],
            [79.5,-0.10],[80.4,-0.20],[81.2,-0.10],[79.2,-0.70],[80.1,-0.80],[81.0,-0.60],[81.6,-0.90],
            [79.6,-1.30],[80.5,-1.30],[81.3,-1.20],[79.8,-1.80],[80.3,-1.70]
        ];
        const rangeRateKs = [
            [13.9,7.22],[12.9,5.37],[13.9,5.37],[12.9,4.20],[13.3,4.10],[12.8,3.80],[13.6,3.70],
            [13.1,3.30],[13.5,2.90],[12.9,2.60],[13.3,2.40],[12.8,2.10],[13.6,2.20],[13.1,1.90],
            [13.4,1.60],[12.7,1.50],[13.8,1.70],[13.0,1.20],[13.5,1.00],[12.8,0.80],[13.3,0.70],
            [13.9,0.90],[13.1,0.40],[12.6,0.30],[13.6,0.20],[13.0,-0.10],[13.4,-0.20],[12.7,-0.40],
            [13.8,-0.30],[13.2,-0.60],[12.9,-0.90],[13.5,-0.80],[13.1,-1.10],[12.6,-1.20],[13.7,-1.30],
            [13.3,-1.50],[12.8,-1.70],[13.5,-1.80],[13.0,-2.00],[13.8,-2.10],[13.2,-2.30],[12.7,-2.40],
            [13.6,-2.50],[13.4,-2.70],[13.1,-3.00],[13.8,-3.20],[13.5,-3.10],[13.9,-4.44],[13.2,0.10],
            [12.9,1.00],[13.7,0.60],
            [12.7,2.35],[13.2,2.65],[13.8,2.45],[12.6,1.85],[13.0,2.15],[13.5,1.95],[14.0,2.05],
            [12.9,1.55],[13.3,1.35],[13.7,1.45],[12.6,1.05],[13.1,0.85],[13.6,1.25],[14.0,0.65],
            [12.8,0.45],[13.3,0.25],[13.8,0.35],[12.6,-0.05],[13.0,0.15],[13.5,-0.15],[13.9,0.05],
            [12.8,-0.65],[13.3,-0.45],[13.7,-0.75],[12.6,-0.95],[13.0,-1.25],[13.4,-1.05],[13.9,-1.15],
            [12.9,-1.45],[13.2,-1.85],[13.7,-1.65],[12.6,-1.85],[13.1,-2.25],[13.5,-2.15],[13.9,-2.45],
            [12.9,-2.75],[13.3,-2.95],[13.7,-2.75],[13.4,3.45],[13.0,3.05],
            [37.8,7.96],[37.9,7.70],[37.8,7.30],[37.9,6.60],[37.8,6.20],[37.9,5.80],[37.7,5.30],
            [37.9,4.90],[37.6,4.60],[37.8,4.20],[36.2,4.10],[37.5,3.80],[37.7,3.40],[37.4,3.00],
            [37.6,2.60],[37.3,2.30],[37.5,1.90],[37.2,1.50],[37.4,1.10],[36.9,0.80],[37.2,0.60],
            [36.3,0.90],[36.7,0.40],[37.0,0.10],[36.4,-0.20],[36.8,-0.40],[37.1,-0.70],[36.0,-0.90],
            [36.5,-1.10],[36.9,-1.30],[35.7,-1.50],[36.2,-1.70],[36.7,-1.90],[35.5,-2.10],[36.0,-2.30],
            [36.5,-2.50],[36.9,-2.70],[35.7,-2.90],[36.2,-3.10],[36.6,-3.30],[35.5,-3.50],[36.0,-3.70],
            [36.4,-3.90],[36.8,-4.10],[35.7,-4.30],[36.2,-4.50],[36.6,-4.70],[35.6,-5.00],[36.1,-5.20],
            [36.5,-5.50],[36.9,-5.30],[35.7,-5.80],[36.3,-6.00],[36.7,-6.20],[35.9,-6.50],[36.9,-6.78],
            [36.0,-7.12],[36.5,-7.59],[36.4,-7.30],[37.6,7.96],[37.9,7.40],
            [37.7,7.60],[37.9,7.10],[37.7,6.90],[37.8,6.40],[37.6,6.00],[37.9,5.50],[37.6,5.60],
            [37.8,5.10],[37.5,4.90],[37.7,4.50],[37.4,4.30],[37.6,4.00],[37.3,3.60],[37.5,3.30],
            [37.2,3.10],[37.4,2.70],[37.1,2.40],[37.3,2.00],[37.0,1.80],[37.2,1.30],[36.8,1.20],
            [37.0,0.90],[36.6,0.60],[36.9,0.30],[36.5,0.20],[36.7,-0.10],[36.3,-0.50],[36.6,-0.60],
            [36.9,-0.90],[36.2,-1.20],[36.7,-1.50],[35.9,-1.80],[36.4,-2.00],[36.8,-2.20],[35.8,-2.50],
            [36.3,-2.70],[36.7,-3.00],[35.9,-3.30],[36.4,-3.50],[36.8,-3.70],[35.6,-3.90],[36.1,-4.10],
            [36.6,-4.30],[35.9,-4.70],[36.4,-4.90],[36.8,-4.80],[35.8,-5.40],[36.3,-5.60],[36.7,-5.80],
            [36.1,-6.20],[36.5,-6.50],[36.2,-6.80],[36.6,-7.00],[36.3,-7.40],
            [61.4,2.69],[60.8,2.20],[60.8,1.80],[62.0,1.90],[60.3,1.40],[61.2,1.20],[62.1,1.30],
            [60.0,0.80],[60.9,0.60],[61.8,0.90],[60.4,0.20],[61.3,0.00],[62.2,0.30],[60.1,-0.40],
            [60.9,-0.60],[61.7,-0.30],[62.3,-0.80],[60.5,-1.10],[61.4,-1.30],[62.0,-1.00],[60.0,-1.60],
            [60.8,-1.80],[61.7,-1.70],[62.4,-2.00],[60.3,-2.30],[61.2,-2.50],[62.0,-2.20],[60.0,-2.90],
            [60.7,-3.00],[61.6,-2.80],[62.3,-3.20],[60.4,-3.50],[61.1,-3.70],[61.9,-3.40],[60.1,-4.00],
            [60.9,-4.20],[61.6,-4.00],[62.3,-4.30],[60.5,-4.70],[61.3,-4.80],[62.0,-4.60],[60.2,-5.20],
            [61.0,-5.40],[61.8,-5.10],[60.8,-5.77],[62.1,-5.74],[60.3,-6.38],[61.5,-0.90],[60.6,0.50],
            [61.1,-3.20],
            [61.0,1.60],[61.7,1.50],[60.6,1.10],[61.5,0.90],[62.2,1.00],[60.2,0.50],[61.1,0.30],
            [61.9,0.50],[60.7,-0.10],[61.6,0.20],[62.4,-0.20],[60.3,-0.70],[61.2,-0.50],[62.0,-0.60],
            [60.7,-1.30],[61.7,-1.10],[62.4,-1.40],[60.2,-1.90],[61.1,-1.70],[62.0,-1.80],[60.6,-2.50],
            [61.5,-2.30],[62.3,-2.60],[60.2,-3.20],[61.1,-2.90],[62.0,-3.10],[60.7,-3.70],[61.6,-3.50],
            [62.4,-3.80],[60.3,-4.30],[61.2,-4.10],[62.0,-4.30],[60.8,-4.90],[61.7,-4.60],[62.3,-5.00],
            [60.5,-5.40],[61.4,-5.30],[62.1,-5.40],[60.9,-5.60],[61.6,-5.65],[60.4,-0.20],[61.4,-1.90],
            [60.9,-2.60],[61.8,-4.00],[60.1,-3.60],[62.2,-2.30],[60.5,-4.50],[61.3,-5.00],
            [85.8,7.96],[85.9,7.70],[85.8,7.20],[85.7,6.80],[85.8,6.40],[84.5,5.60],[85.0,5.80],
            [85.5,5.50],[85.9,5.70],[84.7,5.00],[85.2,5.20],[85.7,4.90],[84.9,4.50],[85.4,4.30],
            [85.9,4.60],[84.6,4.00],[85.1,3.80],[85.6,3.60],[84.8,3.30],[85.3,3.10],[85.8,3.40],
            [84.5,2.80],[85.0,2.60],[85.5,2.90],[85.9,2.50],[84.7,2.20],[85.2,2.00],[85.7,1.80],
            [84.9,1.50],[85.4,1.30],[85.9,1.60],[84.6,1.00],[85.1,0.80],[85.6,0.60],[84.8,0.30],
            [85.3,0.10],[85.8,0.40],[84.6,-0.20],[85.1,-0.40],[85.5,-0.10],[84.9,-0.80],[85.3,-1.00],
            [84.7,-1.30],[85.1,-1.50],[84.8,-1.90],[85.0,-2.10],[84.9,-3.10],[85.6,2.30],[84.6,4.20],
            [85.3,6.10],[85.8,6.00],[84.9,5.40],[85.4,5.80],[85.9,5.20],[84.6,4.70],[85.1,4.90],
            [85.6,4.40],[84.8,4.10],[85.3,4.50],[85.8,3.80],[84.6,3.50],[85.1,3.40],[85.6,3.20],
            [84.9,2.90],[85.4,2.70],[85.9,3.00],[84.6,2.40],[85.1,2.30],[85.6,2.10],[84.8,1.80],
            [85.3,1.70],[85.8,1.20],[84.6,1.40],[85.1,1.20],[85.6,0.90],[84.8,0.70],[85.3,0.50],
            [85.8,0.10],[84.6,0.20],[85.1,0.00],[85.5,-0.40],[84.8,-0.50],[85.2,-0.70],[84.6,-0.90],
            [85.0,-1.10],[85.3,-1.40],[84.8,-1.60],[85.1,-1.80],[84.9,-2.30]
        ];

        // axis ticks
        const dateTickHours = [0, 24, 48, 72];
        const dateTickLabels = ['05-01, 2021', '05-02, 2021', '05-03, 2021', '05-04, 2021'];
        const delayTicks = [-0.10, -0.05, 0.00, 0.05, 0.10];
        const rateTicks = [-2, -1, 0, 1, 2];
        const rateTickLabels = ['\u22122.0x10<sup>\u22123</sup>', '\u22121.0x10<sup>\u22123</sup>', '0.0x10<sup>\u22123</sup>', '1.0x10<sup>\u22123</sup>', '2.0x10<sup>\u22123</sup>'];
        const rangeTicks = [-1.0, -0.5, 0.0, 0.5, 1.0];
        const rangeRateTicks = [-5, 0, 5];
        const rangeRateTickLabels = ['\u22125.0x10<sup>\u22124</sup>', '0.0x10<sup>\u22124</sup>', '5.0x10<sup>\u22124</sup>'];

        const ORANGE = '#E8846C';
        const PURPLE = '#8B7BB1';
        const GREEN = '#C6D68A';
        const FONT = 'DejaVu Sans, Arial, sans-serif';

        const DAY0 = Date.UTC(2021, 4, 1);
        function toTime(h) { return DAY0 + h * 3600000; }

        function scatter(points, name, color, axisNo, legendId, scale) {
            const sfx = axisNo === 1 ? '' : String(axisNo);
            return {
                x: points.map(p => toTime(p[0])),
                y: points.map(p => p[1] * scale),
                type: 'scatter',
                mode: 'markers',
                name: name,
                xaxis: 'x' + sfx,
                yaxis: 'y' + sfx,
                legend: legendId,
                legendgroup: legendId + name,
                marker: { color: color, size: 10, line: { width: 0 } }
            };
        }

        const traces = [
            scatter(delayKunmUlmq, 'KUNM-ULMQ', ORANGE, 1, 'legend', 1),
            scatter(delayKunmShan, 'KUNM-SHAN', PURPLE, 1, 'legend', 1),
            scatter(delayUlmqShan, 'ULMQ-SHAN', GREEN, 1, 'legend', 1),
            scatter(rateUlmqShan, 'ULMQ-SHAN', ORANGE, 2, 'legend2', 1e-3),
            scatter(rateKunmShan, 'KUNM-SHAN', PURPLE, 2, 'legend2', 1e-3),
            scatter(rateKunmUlmq, 'KUNM-ULMQ', GREEN, 2, 'legend2', 1e-3),
            scatter(rangeJms, 'JMS', ORANGE, 3, 'legend3', 1),
            scatter(rangeKs, 'KS', PURPLE, 3, 'legend3', 1),
            scatter(rangeRateJms, 'JMS', ORANGE, 4, 'legend4', 1e-4),
            scatter(rangeRateKs, 'KS', PURPLE, 4, 'legend4', 1e-4)
        ];

        const frame = {
            showline: true,
            mirror: true,
            linecolor: '#000000',
            linewidth: 2,
            ticks: 'outside',
            ticklen: 10,
            tickwidth: 2,
            tickcolor: '#000000',
            showgrid: false,
            zeroline: false,
            tickfont: { family: FONT, size: 28, color: '#000000' }
        };

        function xAxis(anchor, withLabels) {
            return Object.assign({}, frame, {
                type: 'date',
                anchor: anchor,
                domain: [0, 1],
                range: [toTime(-12.05), toTime(92.1)],
                tickmode: 'array',
                tickvals: dateTickHours.map(toTime),
                ticktext: dateTickLabels,
                showticklabels: withLabels
            });
        }

        function yAxis(domain, range, title, standoff, extra) {
            return Object.assign({}, frame, {
                domain: domain,
                range: range,
                title: { text: title, standoff: standoff, font: { family: FONT, size: 28, color: '#000000' } }
            }, extra);
        }

        function legendAt(x, y) {
            return {
                x: x, y: y,
                xanchor: 'left', yanchor: 'top',
                bgcolor: '#ffffff',
                bordercolor: '#cccccc',
                borderwidth: 1.5,
                itemwidth: 84,
                tracegroupgap: 3,
                font: { family: FONT, size: 28, color: '#000000' }
            };
        }

        const layout = {
            width: 1500,
            height: 1816,
            margin: { l: 218, r: 3, t: 4, b: 92 },
            paper_bgcolor: '#ffffff',
            plot_bgcolor: '#ffffff',
            showlegend: true,
            xaxis: xAxis('y', false),
            xaxis2: xAxis('y2', false),
            xaxis3: xAxis('y3', false),
            xaxis4: Object.assign(xAxis('y4', true), {
                ticklabelstandoff: -5,
                title: { text: 'Time (UTC)', font: { family: FONT, size: 28, color: '#000000' } }
            }),
            yaxis: yAxis([0.7678, 1], [-0.1189, 0.1241], 'VLBI delay (m)', 17, {
                anchor: 'x', tickmode: 'array', tickvals: delayTicks, tickformat: '.2f'
            }),
            yaxis2: yAxis([0.5119, 0.7439], [-2.582e-3, 2.692e-3], 'VLBI delay rate (m/s)', 16, {
                anchor: 'x2', tickmode: 'array', tickvals: rateTicks.map(v => v * 1e-3), ticktext: rateTickLabels
            }),
            yaxis3: yAxis([0.2561, 0.4881], [-1.178, 1.085], 'Range (m)', 12, {
                anchor: 'x3', tickmode: 'array', tickvals: rangeTicks, tickformat: '.1f'
            }),
            yaxis4: yAxis([0, 0.2320], [-8.03e-4, 8.02e-4], 'Range Rate (m/s)', 16, {
                anchor: 'x4', tickmode: 'array', tickvals: rangeRateTicks.map(v => v * 1e-4), ticktext: rangeRateTickLabels
            }),
            legend: legendAt(0.3878, 0.8552),
            legend2: legendAt(0.3886, 0.7349),
            legend3: legendAt(0.0117, 0.4795),
            legend4: legendAt(0.0117, 0.2237)
        };

        const config = { displayModeBar: false, staticPlot: true };

        Plotly.newPlot('plot', traces, layout, config).then(function (gd) {
            // matplotlib style legend frame: rounded corners and a drop shadow
            ['legend', 'legend2', 'legend3', 'legend4'].forEach(function (id) {
                const bg = gd.querySelector('g.' + id + ' rect.bg');
                if (!bg) return;
                bg.setAttribute('rx', 6);
                bg.setAttribute('ry', 6);
                const shadow = bg.cloneNode(false);
                shadow.setAttribute('class', 'shadow');
                shadow.setAttribute('transform', 'translate(6,7)');
                shadow.style.fill = '#9c9c9c';
                shadow.style.stroke = 'none';
                bg.parentNode.insertBefore(shadow, bg);
            });
        });
    </script>
</body>
</html>
